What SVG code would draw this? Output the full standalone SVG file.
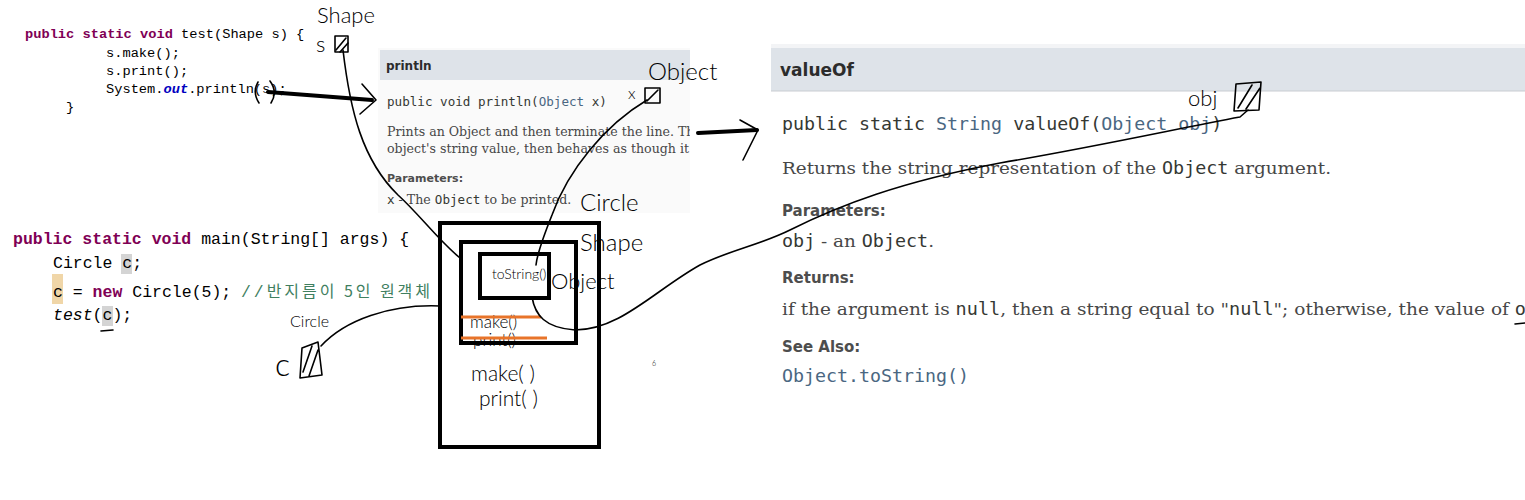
<svg xmlns="http://www.w3.org/2000/svg" width="1525" height="500" viewBox="0 0 1525 500">
<style>
.code{font-family:"Liberation Mono","DejaVu Sans Mono",monospace;fill:#000}
.kw{fill:#7f0055;font-weight:bold}
.fld{fill:#0000c0;font-weight:bold;font-style:italic}
.cm{fill:#3f7f5f}
.docmono{font-family:"DejaVu Sans Mono",monospace;fill:#353833}
.blue{fill:#4a6782}
.serif{font-family:"DejaVu Serif","Liberation Serif",serif;fill:#474747}
.head{font-family:"DejaVu Sans","Liberation Sans",sans-serif;font-weight:bold;fill:#2c2c2c}
.lbl{font-family:"DejaVu Sans","Liberation Sans",sans-serif;font-weight:bold;fill:#4d4d4d}
.hand{font-family:"Lato","DejaVu Sans",sans-serif;font-weight:300;fill:#000}
.ink{fill:none;stroke:#000;stroke-width:1.6;stroke-linecap:round;stroke-linejoin:round}
.thick{fill:none;stroke:#000;stroke-width:4;stroke-linecap:round}
.box{fill:none;stroke:#000;stroke-width:4}
.strike{stroke:#e8742a;stroke-width:3}
</style>
<defs>
<clipPath id="clipP"><rect x="378" y="48" width="312" height="165"/></clipPath>
<clipPath id="clipV"><rect x="771" y="44" width="754" height="360"/></clipPath>
</defs>
<rect width="1525" height="500" fill="#fff"/>

<g id="test-code">
<text class="code" x="25" y="38" font-size="13.7"><tspan class="kw">public</tspan> <tspan class="kw">static</tspan> <tspan class="kw">void</tspan> test(Shape s) {</text>
<text class="code" x="106" y="57" font-size="13.7">s.make();</text>
<text class="code" x="106" y="75" font-size="13.7">s.print();</text>
<text class="code" x="106" y="93" font-size="13.7">System.<tspan class="fld">out</tspan>.println(s);</text>
<text class="code" x="66" y="111" font-size="13.7">}</text>
</g>

<g id="main-code">
<rect x="121" y="254" width="11" height="20" fill="#d4d4d4"/>
<rect x="52" y="274" width="11" height="30" fill="#f0d6a8"/>
<rect x="102" y="306" width="11" height="20" fill="#d4d4d4"/>
<text class="code" x="13" y="244" font-size="16.5"><tspan class="kw">public</tspan> <tspan class="kw">static</tspan> <tspan class="kw">void</tspan> main(String[] args) {</text>
<text class="code" x="53" y="268" font-size="16.5">Circle c;</text>
<text class="code" x="53" y="297" font-size="16.5">c = <tspan class="kw">new</tspan> Circle(5);</text>
<text class="cm" x="241" y="297" font-size="16.5" font-family="'Liberation Mono','Noto Sans CJK KR',monospace" textLength="189" lengthAdjust="spacing">//<tspan font-family="'Noto Sans CJK KR',sans-serif" font-size="16">반지름이 5인 원객체</tspan></text>
<text class="code" x="53" y="320" font-size="16.5"><tspan font-style="italic">test</tspan>(c);</text>
</g>

<g id="println-doc" clip-path="url(#clipP)">
<rect x="378" y="48" width="312" height="165" fill="#fafafa"/>
<rect x="380" y="50" width="310" height="30" fill="#dee3e9"/>
<text class="head" x="386" y="70" font-size="12">println</text>
<text class="docmono" x="387" y="106" font-size="12.6">public void println(<tspan class="blue">Object</tspan> x)</text>
<text class="serif" x="387" y="136" font-size="12.6">Prints an Object and then terminate the line. This</text>
<text class="serif" x="387" y="153" font-size="12.6">object's string value, then behaves as though it</text>
<text class="lbl" x="387" y="182" font-size="11">Parameters:</text>
<text class="serif" x="387" y="204" font-size="12.6"><tspan class="docmono">x</tspan> - The <tspan class="docmono">Object</tspan> to be printed.</text>
</g>

<g id="valueOf-doc" clip-path="url(#clipV)">
<rect x="771" y="44" width="754" height="4" fill="#f3f4f6"/>
<rect x="771" y="48" width="754" height="43" fill="#dee3e9"/>
<line x1="771" y1="91" x2="1525" y2="91" stroke="#c9ccd1" stroke-width="1"/>
<text class="head" x="780" y="76" font-size="17">valueOf</text>
<text class="docmono" x="782" y="130" font-size="18.3">public static <tspan class="blue">String</tspan> valueOf(<tspan class="blue">Object obj</tspan>)</text>
<text class="serif" x="782" y="174" font-size="17" textLength="549" lengthAdjust="spacingAndGlyphs">Returns the string representation of the <tspan class="docmono">Object</tspan> argument.</text>
<text class="lbl" x="782" y="216" font-size="15">Parameters:</text>
<text class="serif" x="782" y="247" font-size="17" textLength="152" lengthAdjust="spacingAndGlyphs"><tspan class="docmono">obj</tspan> - an <tspan class="docmono">Object</tspan>.</text>
<text class="lbl" x="782" y="283" font-size="15">Returns:</text>
<text class="serif" x="782" y="315" font-size="17" textLength="744" lengthAdjust="spacingAndGlyphs">if the argument is <tspan class="docmono">null</tspan>, then a string equal to "<tspan class="docmono">null</tspan>"; otherwise, the value of <tspan class="docmono">o</tspan></text>
<text class="lbl" x="782" y="352" font-size="15">See Also:</text>
<text class="docmono blue" x="782" y="382" font-size="17" textLength="187" lengthAdjust="spacingAndGlyphs">Object.toString()</text>
</g>

<g id="object-boxes">
<rect class="box" x="440" y="223" width="159" height="224"/>
<rect class="box" x="461" y="242" width="115" height="101"/>
<rect class="box" x="480" y="254" width="69" height="44"/>
<text class="hand" x="492" y="279" font-size="14">toString()</text>
<text class="hand" x="470" y="328" font-size="17">make()</text>
<text class="hand" x="473" y="346" font-size="17">print()</text>
<line class="strike" x1="461" y1="317" x2="541" y2="317"/>
<line class="strike" x1="461" y1="338" x2="547" y2="338"/>
<text class="hand" x="471" y="381" font-size="21">make( )</text>
<text class="hand" x="479" y="406" font-size="21">print( )</text>
<text class="hand" x="652" y="366" font-size="7">6</text>
</g>

<g id="labels">
<text class="hand" x="317" y="23" font-size="22">Shape</text>
<text class="hand" x="316" y="52" font-size="22">s</text>
<rect x="335" y="36" width="13" height="16" class="ink"/>
<path class="ink" d="M336,50 L346,38 M340,52 L348,43"/>
<text class="hand" x="648" y="80" font-size="24">Object</text>
<text class="hand" x="628" y="99" font-size="16">x</text>
<rect x="645" y="88" width="15" height="15" class="ink"/>
<path class="ink" d="M647,101 L658,90"/>
<text class="hand" x="1188" y="106" font-size="22">obj</text>
<path class="ink" d="M1236,84 L1261,82 L1259,110 L1234,111 Z M1238,108 L1252,85 M1246,109 L1260,88"/>
<text class="hand" x="580" y="211" font-size="24">Circle</text>
<text class="hand" x="580" y="251" font-size="24">Shape</text>
<text class="hand" x="551" y="289" font-size="22">Object</text>
<text class="hand" x="290" y="327" font-size="16">Circle</text>
<text class="hand" x="275" y="376" font-size="32">c</text>
<path class="ink" d="M302,348 L318,342 L322,375 L300,378 Z M303,372 L312,346 M309,376 L318,350"/>
</g>

<g id="connectors">
<path class="thick" d="M268,92 L372,100"/>
<path class="ink" d="M362,84 L376,100 L360,114" stroke-width="2"/>
<path class="ink" d="M258,82 Q252,92 259,103 M270,81 Q278,92 271,103"/>
<path class="ink" d="M343,50 C350,110 362,160 398,195 C420,215 438,240 460,258"/>
<path class="ink" d="M647,100 C605,125 568,170 552,215 C542,240 537,255 536,265"/>
<path class="thick" d="M698,133 L757,130"/>
<path class="ink" d="M740,120 L758,130 L743,160" stroke-width="2"/>
<path class="ink" d="M532,297 C535,315 545,328 575,330 C620,330 655,290 700,265 C730,250 760,245 790,230 C840,205 900,182 1000,163 C1100,146 1180,128 1240,117 L1248,110"/>
<path class="ink" d="M321,346 C345,320 390,304 440,306"/>
<path class="ink" d="M101,331 L113,330"/>
<path class="ink" d="M1515,324 L1525,323"/>
</g>
</svg>
